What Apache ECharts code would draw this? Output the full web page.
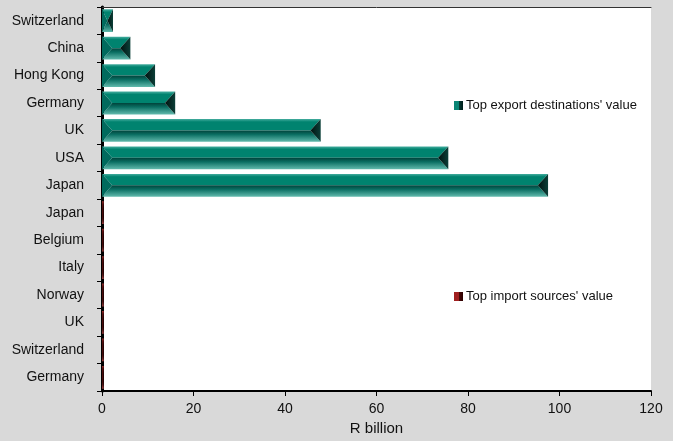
<!DOCTYPE html>
<html>
<head>
<meta charset="utf-8">
<script src="https://cdn.jsdelivr.net/npm/echarts@6/dist/echarts.min.js"></script>
<style>html,body{margin:0;padding:0;background:#d9d9d9;}#c{width:673px;height:441px;}</style>
</head>
<body>
<div id="c"></div>
<script>
// Categories from bottom to top
var categoryLabels = ['Germany','Switzerland','UK','Norway','Italy','Belgium','Japan','Japan','USA','UK','Germany','Hong Kong','China','Switzerland'];
// Import sources (bottom 7 rows)
var importCountries = ['Germany','Switzerland','UK','Norway','Italy','Belgium','Japan'];
var importValues = [0.4, 0.4, 0.4, 0.4, 0.4, 0.4, 0.4];
// Export destinations (top 7 rows)
var exportCountries = ['Japan','USA','UK','Germany','Hong Kong','China','Switzerland'];
var exportValues = [97.5, 75.7, 47.8, 16.0, 11.6, 6.2, 2.4];
var xTicks = [0, 20, 40, 60, 80, 100, 120];
var xAxisTitle = 'R billion';
var seriesNames = ["Top export destinations' value", "Top import sources' value"];

var exportData = exportValues.map(function (v, i) { return [v, importCountries.length + i]; });
var importData = importValues.map(function (v, i) { return [v, i]; });

function bevelRender(pal) {
  return function (params, api) {
    var v = api.value(0), yi = api.value(1);
    var s = api.coord([0, yi]), e = api.coord([v, yi]);
    var h = api.size([0, 1])[1] * 0.83;
    var x0 = s[0], x1 = e[0], yc = s[1], y0 = yc - h / 2, y1 = yc + h / 2;
    var b = Math.min(h * 0.45, (x1 - x0) / 2);
    var L = echarts.graphic.LinearGradient;
    return {
      type: 'group',
      children: [
        { type: 'polygon', shape: { points: [[x0, y0], [x1, y0], [x1 - b, yc], [x0 + b, yc]] },
          style: { fill: new L(0, 0, 0, 1, [{offset: 0, color: pal.topLight}, {offset: 0.25, color: pal.top}, {offset: 1, color: pal.top}]) } },
        { type: 'polygon', shape: { points: [[x0 + b, yc], [x1 - b, yc], [x1, y1], [x0, y1]] },
          style: { fill: new L(0, 0, 0, 1, [{offset: 0, color: pal.ridge}, {offset: 0.35, color: pal.bottomMid}, {offset: 1, color: pal.bottomLight}]) } },
        { type: 'polygon', shape: { points: [[x0, y0], [x0 + b, yc], [x0, y1]] },
          style: { fill: pal.left } },
        { type: 'polygon', shape: { points: [[x1, y0], [x1 - b, yc], [x1, y1]] },
          style: { fill: new L(0, 0, 1, 0, [{offset: 0, color: pal.rightDark}, {offset: 1, color: pal.right}]) } }
      ]
    };
  };
}

var teal = { topLight: '#45ad9f', top: '#00836f', ridge: '#00433b', bottomMid: '#0a6e62', bottomLight: '#62baad', left: '#006a5d', rightDark: '#00120f', right: '#0b3f38' };
var red = { topLight: '#a03030', top: '#7a1515', ridge: '#3a0505', bottomMid: '#5a0d0d', bottomLight: '#a04040', left: '#5a0f0f', rightDark: '#200000', right: '#3a0808' };

var chart = echarts.init(document.getElementById('c'));
chart.setOption({
  backgroundColor: '#d9d9d9',
  animation: false,
  textStyle: { fontFamily: 'Liberation Sans, Arial, sans-serif' },
  grid: { left: 102, right: 22, top: 7, bottom: 48, show: true, backgroundColor: '#ffffff', borderWidth: 0 },
  legend: [
    { data: [seriesNames[0]], left: 449, top: 94, orient: 'vertical', itemWidth: 9, itemHeight: 9, itemGap: 4, icon: 'rect',
      textStyle: { fontSize: 13, color: '#111', padding: [0, 0, 0, -2], fontFamily: 'Liberation Sans, Arial, sans-serif' } },
    { data: [seriesNames[1]], left: 449, top: 285, orient: 'vertical', itemWidth: 9, itemHeight: 9, itemGap: 4, icon: 'rect',
      textStyle: { fontSize: 13, color: '#111', padding: [0, 0, 0, -2], fontFamily: 'Liberation Sans, Arial, sans-serif' } }
  ],
  xAxis: [
    { type: 'value', min: xTicks[0], max: xTicks[xTicks.length - 1], interval: xTicks[1] - xTicks[0],
      name: xAxisTitle, nameLocation: 'middle', nameGap: 30,
      nameTextStyle: { fontSize: 15, color: '#111' },
      axisLine: { show: true, lineStyle: { color: '#000', width: 2 } },
      axisTick: { show: true, length: 5, lineStyle: { color: '#000' } },
      axisLabel: { fontSize: 14, color: '#111', margin: 11 },
      splitLine: { show: false } },
    { type: 'value', position: 'top', min: xTicks[0], max: xTicks[xTicks.length - 1],
      axisLine: { show: true, lineStyle: { color: '#333', width: 1 } },
      axisTick: { show: false }, axisLabel: { show: false }, splitLine: { show: false } }
  ],
  yAxis: [
    { type: 'category', data: categoryLabels,
      axisLine: { show: true, lineStyle: { color: '#000', width: 2 } },
      axisTick: { show: true, length: 5, lineStyle: { color: '#000' } },
      axisLabel: { fontSize: 14, color: '#111', margin: 18 } },
    { type: 'category', data: categoryLabels, position: 'right',
      axisLine: { show: true, lineStyle: { color: '#000', width: 3 } },
      axisTick: { show: false }, axisLabel: { show: false } }
  ],
  series: [
    { name: seriesNames[0], type: 'custom', xAxisIndex: 0, yAxisIndex: 0, renderItem: bevelRender(teal),
      encode: { x: 0, y: 1 }, data: exportData,
      itemStyle: { color: new echarts.graphic.LinearGradient(0, 0, 1, 0, [{offset: 0, color: '#0a8575'}, {offset: 0.5, color: '#0a8575'}, {offset: 0.55, color: '#063a33'}, {offset: 1, color: '#00201c'}]) } },
    { name: seriesNames[1], type: 'custom', xAxisIndex: 0, yAxisIndex: 0, renderItem: bevelRender(red),
      encode: { x: 0, y: 1 }, data: importData,
      itemStyle: { color: new echarts.graphic.LinearGradient(0, 0, 1, 0, [{offset: 0, color: '#a02020'}, {offset: 0.5, color: '#a02020'}, {offset: 0.55, color: '#4a0808'}, {offset: 1, color: '#2a0000'}]) } }
  ]
});
</script>
</body>
</html>
